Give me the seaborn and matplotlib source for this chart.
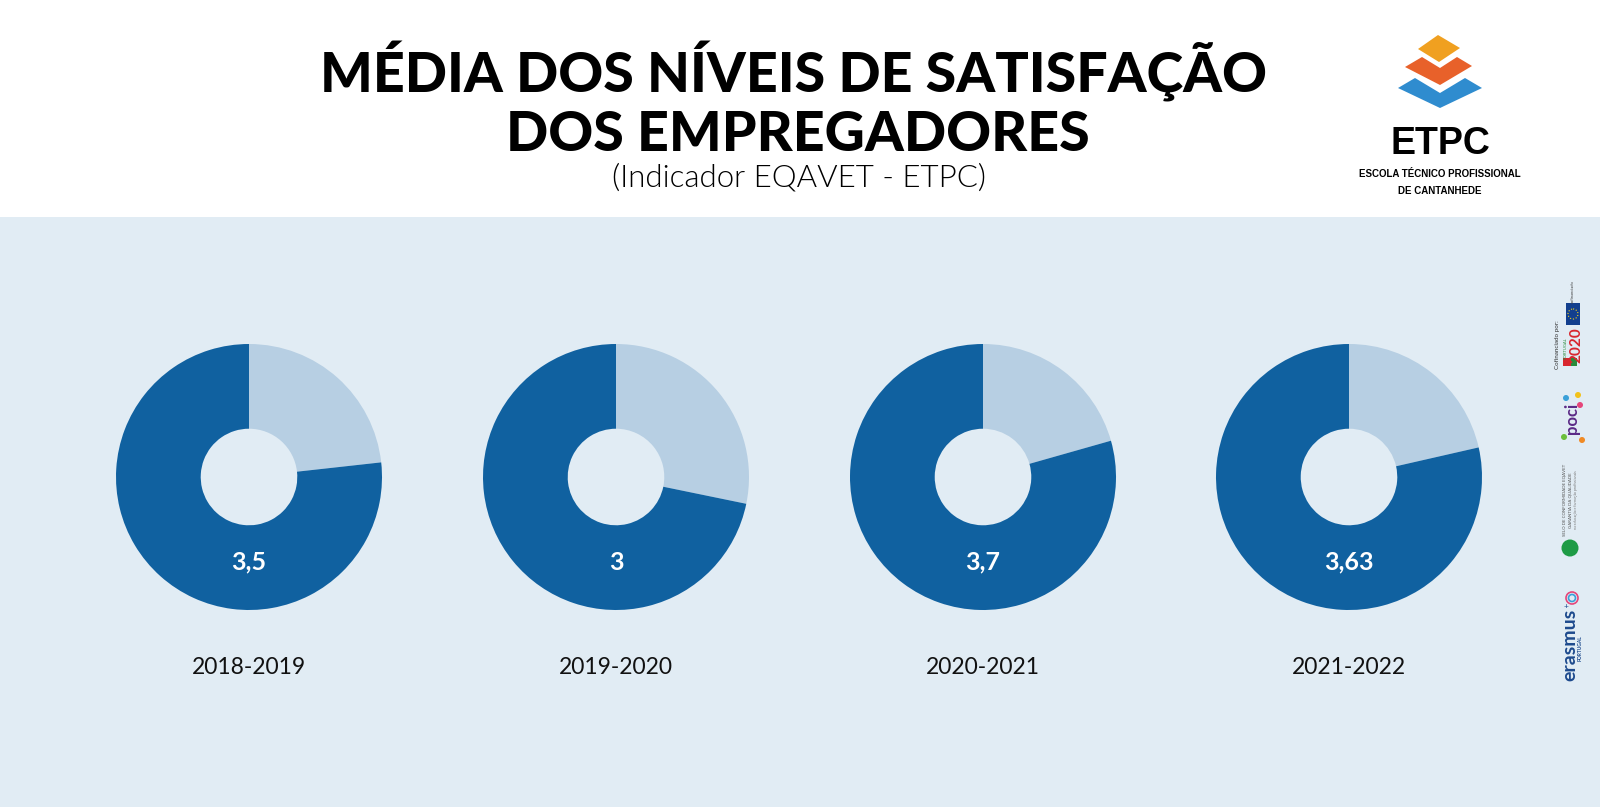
import matplotlib
matplotlib.use('Agg')
import matplotlib.pyplot as plt
from matplotlib.patches import Polygon, Rectangle, Circle
import seaborn as sns

# dados
anos = ['2018-2019', '2019-2020', '2020-2021', '2021-2022']
medias = [3.5, 3.0, 3.7, 3.63]
# parte clara de cada anel (estimada pela abertura do sector)
restos = [1.06, 1.18, 0.96, 0.99]
rotulos = ['3,5', '3', '3,7', '3,63']

subtitulo = '(Indicador EQAVET - ETPC)'

sns.set_theme(style='white')
plt.rcParams['font.family'] = ['Lato', 'DejaVu Sans']

cor_escura = '#1061a0'
cor_clara = '#b7cfe3'
cor_fundo = '#e1ecf4'
cores = sns.color_palette([cor_clara, cor_escura])

W, H = 1600, 807
fig = plt.figure(figsize=(W / 100, H / 100), dpi=100)
fig.patch.set_facecolor('white')

# camada de fundo em coordenadas de pixel
ov = fig.add_axes([0, 0, 1, 1], zorder=0)
ov.set_xlim(0, W)
ov.set_ylim(H, 0)
ov.axis('off')
ov.add_patch(Rectangle((0, 217), W, H - 217, color=cor_fundo, lw=0))

ov.text(794, 72, 'MÉDIA DOS NÍVEIS DE SATISFAÇÃO', ha='center', va='center',
        fontsize=40, fontweight='black', color='black')
ov.text(798, 135, 'DOS EMPREGADORES', ha='center', va='center',
        fontsize=40, fontweight='black', color='black')
ov.text(799, 178, subtitulo, ha='center', va='center',
        fontsize=22.5, fontweight=300, color='black')

# logotipo ETPC
ov.add_patch(Polygon([(1438, 35), (1460, 48), (1439, 62), (1418, 49)],
                     closed=True, color='#f0a020', lw=0))
ov.add_patch(Polygon([(1405, 67), (1422, 57), (1440, 68), (1457, 57), (1472, 66), (1440, 85)],
                     closed=True, color='#e8612a', lw=0))
ov.add_patch(Polygon([(1398, 88), (1415, 78), (1440, 93), (1465, 78), (1482, 88), (1440, 108)],
                     closed=True, color='#2f8ccf', lw=0))
fam_logo = ['Liberation Sans', 'DejaVu Sans']
ov.text(1440, 144, 'ETPC', ha='center', va='center', fontsize=27, fontweight='bold',
        family=fam_logo, color='black')
ov.text(1440, 174, 'ESCOLA TÉCNICO PROFISSIONAL', ha='center', va='center', fontsize=7,
        fontweight='bold', family=fam_logo, color='black')
ov.text(1440, 191, 'DE CANTANHEDE', ha='center', va='center', fontsize=7,
        fontweight='bold', family=fam_logo, color='black')

# faixa de apoios (lado direito)
ov.add_patch(Rectangle((1566, 303), 14, 22, color='#123f8e', lw=0))
ov.add_patch(Circle((1573, 314), 5, fill=False, ec='#f2d21b', lw=0.8, ls=':'))
ov.text(1573, 292, 'cofinanciado', rotation=90, ha='center', va='center', fontsize=3, color='#444444')
ov.text(1557, 345, 'Cofinanciado por:', rotation=90, ha='center', va='center', fontsize=4.5, color='#333333')
ov.text(1576, 345, '2020', rotation=90, ha='center', va='center', fontsize=11,
        fontweight='bold', color='#d8262e')
ov.text(1566, 348, 'PORTUGAL', rotation=90, ha='center', va='center', fontsize=3, color='#2a8a3a')
ov.add_patch(Rectangle((1563, 358), 8, 8, color='#d8262e', lw=0))
ov.add_patch(Rectangle((1571, 358), 6, 8, color='#2a8a3a', lw=0))
ov.text(1572, 418, 'poci', rotation=90, ha='center', va='center', fontsize=12,
        fontweight='bold', color='#5b2a86')
for (px, py, pc) in [(1578, 395, '#f2c21b'), (1566, 398, '#3aa0d8'), (1580, 405, '#e5467a'),
                     (1564, 437, '#6cbf3c'), (1582, 440, '#f08a24')]:
    ov.add_patch(Circle((px, py), 3, color=pc, lw=0))
ov.text(1565, 500, 'SELO DE CONFORMIDADE EQAVET', rotation=90, ha='center', va='center',
        fontsize=3.2, color='#555555')
ov.text(1571, 500, 'GARANTIA DA QUALIDADE', rotation=90, ha='center', va='center',
        fontsize=3.2, color='#555555')
ov.text(1576, 500, 'na educação e formação profissionais', rotation=90, ha='center', va='center',
        fontsize=2.6, color='#777777')
ov.add_patch(Circle((1570, 548), 8.5, color='#1e9b45', lw=0))
ov.text(1570, 645, 'erasmus', rotation=90, ha='center', va='center', fontsize=14,
        fontweight='bold', color='#1d4a8d')
ov.text(1580, 648, 'PORTUGAL', rotation=90, ha='center', va='center', fontsize=3.5,
        fontweight='bold', color='#1d4a8d')
ov.text(1566, 607, '+', ha='center', va='center', fontsize=6, color='#1d4a8d')
ov.add_patch(Circle((1572, 598), 6, fill=False, ec='#e5467a', lw=1.2))
ov.add_patch(Circle((1572, 598), 3.5, fill=False, ec='#3aa0d8', lw=1.2))

# anéis
centros_x = [249, 616, 983, 1349]
cy = 477
r = 133
for i, ano in enumerate(anos):
    cx = centros_x[i]
    ax = fig.add_axes([(cx - r) / W, (H - cy - r) / H, 2 * r / W, 2 * r / H], zorder=1)
    ax.pie([restos[i], medias[i]], colors=cores, startangle=90, counterclock=False,
           radius=1, wedgeprops=dict(width=0.637, linewidth=0))
    ax.set_xlim(-1, 1)
    ax.set_ylim(-1, 1)
    ax.set_aspect('equal')
    ax.axis('off')
    ax.text(0, -0.64, rotulos[i], ha='center', va='center', fontsize=18,
            fontweight='bold', color='white')
    ax.text(0, -1.436, ano, ha='center', va='center', fontsize=16.5,
            fontweight='normal', color='#111111', clip_on=False)

fig.savefig('out.png', dpi=100, facecolor=fig.get_facecolor())
